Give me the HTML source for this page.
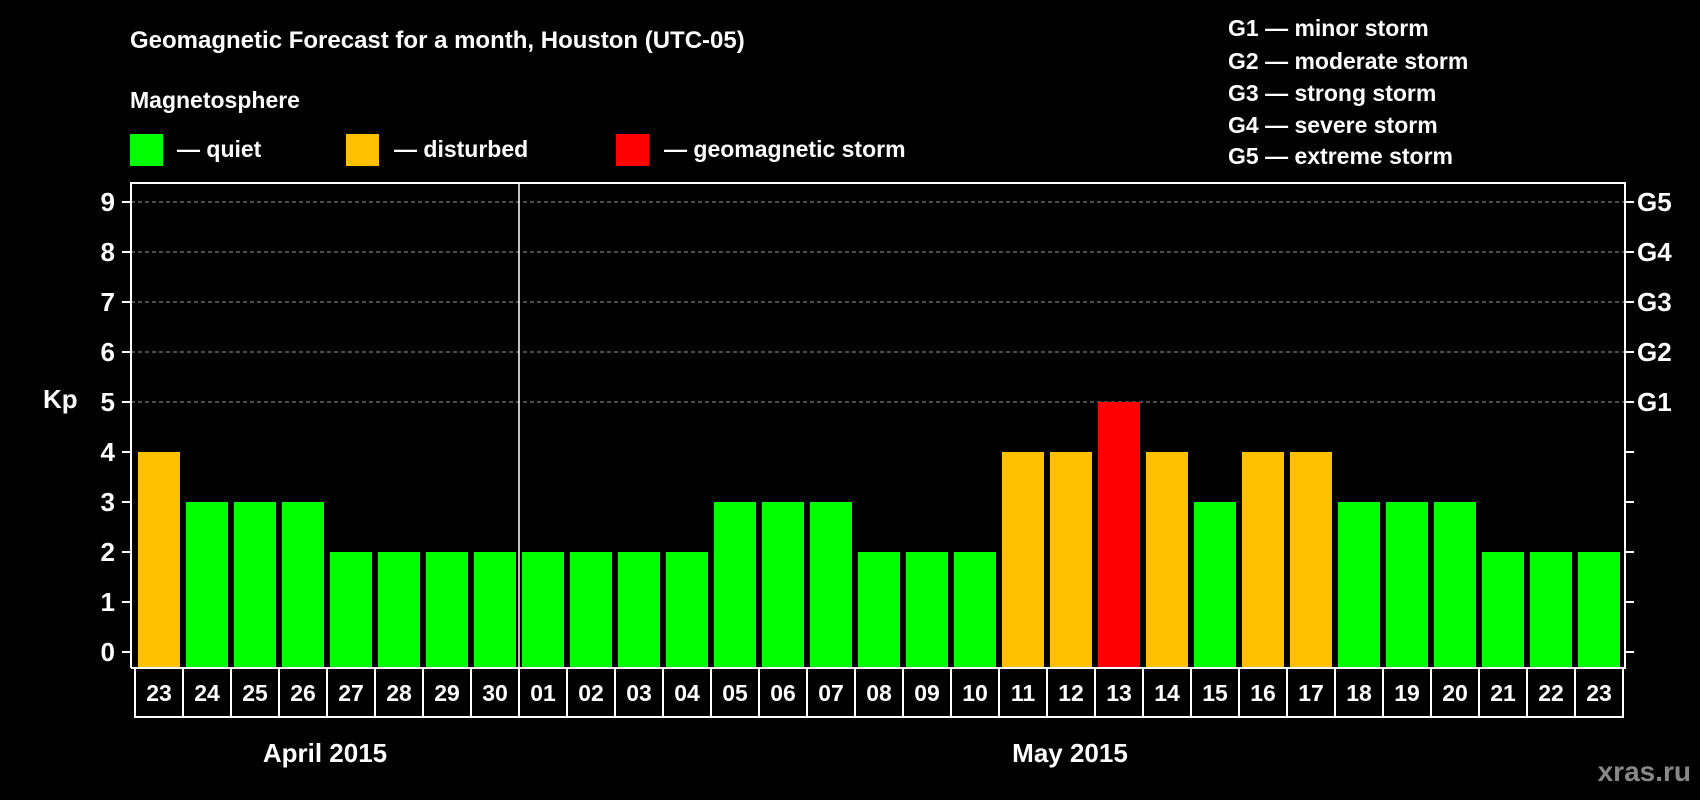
<!DOCTYPE html>
<html><head><meta charset="utf-8"><style>
html,body{margin:0;padding:0;background:#000;}
svg{display:block;font-family:"Liberation Sans",Arial,sans-serif;font-weight:bold;}
</style></head><body>
<svg id="chart" width="1700" height="800" viewBox="0 0 1700 800">
<rect width="1700" height="800" fill="#000"/>
<text x="130" y="48" fill="#fff" font-size="24">Geomagnetic Forecast for a month, Houston (UTC-05)</text>
<text x="130" y="108" fill="#fff" font-size="23">Magnetosphere</text>
<rect x="130" y="134" width="33" height="32" fill="#00ff00"/>
<text x="177" y="157" fill="#fff" font-size="23">— quiet</text>
<rect x="346" y="134" width="33" height="32" fill="#ffc000"/>
<text x="394" y="157" fill="#fff" font-size="23">— disturbed</text>
<rect x="616" y="134" width="33" height="32" fill="#ff0000"/>
<text x="664" y="157" fill="#fff" font-size="23">— geomagnetic storm</text>
<g fill="#fff" font-size="23">
<text x="1228" y="36">G1 — minor storm</text>
<text x="1228" y="69">G2 — moderate storm</text>
<text x="1228" y="101">G3 — strong storm</text>
<text x="1228" y="133">G4 — severe storm</text>
<text x="1228" y="164">G5 — extreme storm</text>
</g>
<text x="43" y="408" fill="#fff" font-size="26">Kp</text>
<g id="grid"></g><g id="bars"></g><g id="axes"></g>
<text x="325" y="762" fill="#fff" font-size="26" text-anchor="middle">April 2015</text>
<text x="1070" y="762" fill="#fff" font-size="26" text-anchor="middle">May 2015</text>
<text x="1691" y="781" fill="#888" font-size="28" text-anchor="end">xras.ru</text>
</svg>
<script>
const days = ["23","24","25","26","27","28","29","30","01","02","03","04","05","06","07","08","09","10","11","12","13","14","15","16","17","18","19","20","21","22","23"];
const kpValues = [4,3,3,3,2,2,2,2,2,2,2,2,3,3,3,2,2,2,4,4,5,4,3,4,4,3,3,3,2,2,2];
const yTicks = [0,1,2,3,4,5,6,7,8,9];
const gLabels = ["G1","G2","G3","G4","G5"];
const monthStartIndex = 8;

const NS = "http://www.w3.org/2000/svg";
const plotL = 131, plotR = 1625, plotT = 183, plotB = 668;
const slot0 = 135, slotW = (1623 - 135) / days.length;
const y = v => 652 - v * 50;
const xs = i => slot0 + i * slotW;
function mk(tag, attrs, parent){const e=document.createElementNS(NS,tag);for(const k in attrs)e.setAttribute(k,attrs[k]);parent.appendChild(e);return e;}
const grid = document.getElementById('grid'), bars = document.getElementById('bars'), axes = document.getElementById('axes');

yTicks.forEach(v => {
  if (v >= 5) {
    const l = mk('line',{x1:plotL,x2:plotR,y1:y(v),y2:y(v),stroke:'#999','stroke-width':1,'stroke-dasharray':'4,3'},grid);
    
    
  }
  const t1 = mk('line',{x1:122,x2:plotL,y1:y(v),y2:y(v),stroke:'#fff','stroke-width':2},axes);
  
  
  const t2 = mk('line',{x1:plotR,x2:plotR+9,y1:y(v),y2:y(v),stroke:'#fff','stroke-width':2},axes);
  
  
  const tx = mk('text',{x:115,y:y(v)+9,fill:'#fff','font-size':26,'text-anchor':'end'},axes);
  tx.textContent = v;
  
  
});
gLabels.forEach((g,i) => {
  const tx = mk('text',{x:1637,y:y(5+i)+9,fill:'#fff','font-size':26},axes);
  tx.textContent = g;
  
  
});
kpValues.forEach((v,i) => {
  const c = v >= 5 ? '#ff0000' : (v >= 4 ? '#ffc000' : '#00ff00');
  const r = mk('rect',{x:xs(i)+3,y:y(v),width:slotW-6,height:plotB-y(v),fill:c},bars);
  
  
  const cell = mk('rect',{x:xs(i),y:plotB,width:slotW,height:49,fill:'none',stroke:'#fff','stroke-width':2},axes);
  
  
  const tx = mk('text',{x:xs(i)+slotW/2,y:plotB+33,fill:'#fff','font-size':23,'text-anchor':'middle'},axes);
  tx.textContent = days[i];
  
  
});
const frame = mk('path',{d:`M${plotL} ${plotB} V${plotT} H${plotR} V${plotB} H${plotL}`,fill:'none',stroke:'#fff','stroke-width':2},axes);


const div = mk('line',{x1:xs(monthStartIndex),x2:xs(monthStartIndex),y1:plotT,y2:plotB,stroke:'#fff','stroke-width':1.5},axes);


</script>
</body></html>
